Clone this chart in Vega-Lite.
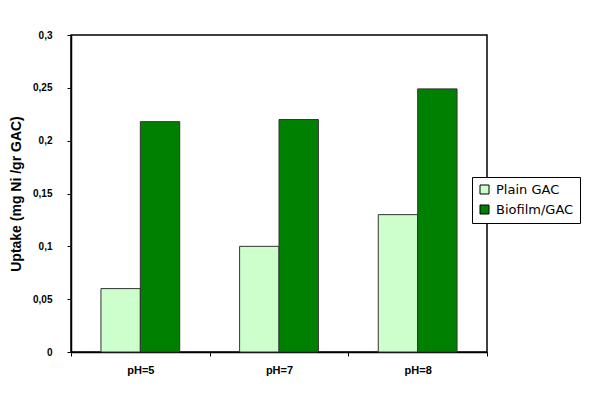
{
  "$schema": "https://vega.github.io/schema/vega-lite/v6.json",
  "width": 416,
  "height": 317,
  "autosize": "none",
  "padding": {"left": 71, "top": 35, "right": 113, "bottom": 67},
  "background": "white",
  "config": {
    "view": {"stroke": "black", "strokeWidth": 1.5},
    "axis": {"grid": false, "domainColor": "black", "tickColor": "black", "labelColor": "black", "titleColor": "black", "labelFont": "Liberation Sans", "titleFont": "Liberation Sans"}
  },
  "data": {
    "values": [
      {"ph": "pH=5", "type": "Plain GAC", "uptake": 0.06},
      {"ph": "pH=5", "type": "Biofilm/GAC", "uptake": 0.218},
      {"ph": "pH=7", "type": "Plain GAC", "uptake": 0.1},
      {"ph": "pH=7", "type": "Biofilm/GAC", "uptake": 0.22},
      {"ph": "pH=8", "type": "Plain GAC", "uptake": 0.13},
      {"ph": "pH=8", "type": "Biofilm/GAC", "uptake": 0.249}
    ]
  },
  "mark": {"type": "bar", "stroke": "#333333", "strokeWidth": 1},
  "encoding": {
    "x": {
      "field": "ph", "type": "nominal", "sort": null,
      "scale": {"paddingInner": 0, "paddingOuter": 0},
      "axis": {"title": null, "labelAngle": 0, "labelFontSize": 11, "labelFontWeight": "bold", "tickBand": "extent", "tickSize": 4, "labelPadding": 8, "domainWidth": 1.5}
    },
    "xOffset": {
      "field": "type", "type": "nominal", "sort": ["Plain GAC", "Biofilm/GAC"],
      "scale": {"paddingInner": 0, "paddingOuter": 0.76}
    },
    "y": {
      "field": "uptake", "type": "quantitative",
      "scale": {"domain": [0, 0.3], "nice": false},
      "axis": {
        "title": "Uptake (mg Ni /gr GAC)", "titleFontSize": 14, "titleFontWeight": "bold", "titlePadding": 9,
        "values": [0, 0.05, 0.1, 0.15, 0.2, 0.25, 0.3],
        "labelExpr": "replace(format(datum.value, '~g'), '.', ',')",
        "labelFontSize": 10, "labelFontWeight": "bold", "tickSize": 4, "labelPadding": 15, "domainWidth": 1.5
      }
    },
    "color": {
      "field": "type", "type": "nominal", "sort": ["Plain GAC", "Biofilm/GAC"],
      "scale": {"domain": ["Plain GAC", "Biofilm/GAC"], "range": ["#ccffcc", "#008000"]},
      "legend": {
        "title": null, "orient": "none", "legendX": 401, "legendY": 142,
        "fillColor": "white", "strokeColor": "black",
        "padding": 6, "symbolType": "square", "symbolSize": 81, "symbolStrokeColor": "black", "symbolStrokeWidth": 1,
        "labelFont": "DejaVu Sans", "labelFontSize": 13, "labelColor": "black", "rowPadding": 6, "labelLimit": 200, "labelOffset": 5
      }
    }
  }
}
